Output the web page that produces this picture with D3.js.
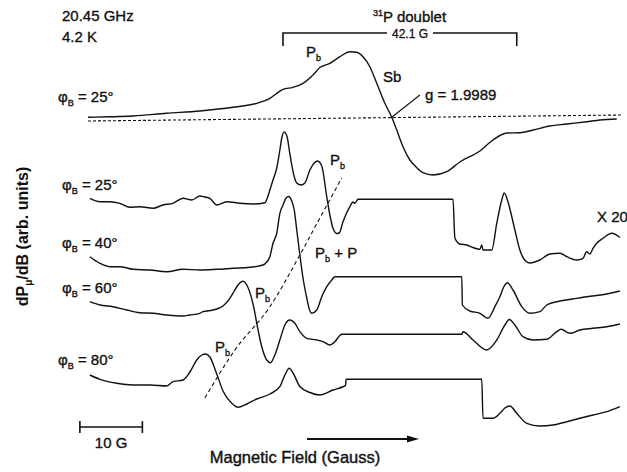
<!DOCTYPE html>
<html>
<head>
<meta charset="utf-8">
<script src="https://cdn.jsdelivr.net/npm/d3@7"></script>
<style>
  body { margin: 0; background: #fff; }
  svg { font-family: "Liberation Sans", Arial, sans-serif; }
</style>
</head>
<body>
<div id="chart"></div>
<script>
// canvas size
var svgWidth = 627;
var svgHeight = 472;

// trace names (phi_B angles) and vertical offsets (arb. units)
var angles = ["25", "25", "40", "60", "80"];
var offsets = [352, 272, 204, 162, 87];

// spectra: [field (G), signal (arb. units)]
var traceSb25 = [
  [0, 2.7], [3.5, 3.2], [7.2, 4], [12.6, 6.7], [17.9, 9], [23.2, 12.7], [27.0, 16.7],
  [29.1, 21.7], [30.2, 26.7], [31.2, 30.7], [32.8, 32.7], [34.4, 36.7], [36.0, 45],
  [37.1, 52.5], [38.7, 56.7], [40.3, 63.3], [41.9, 68.3], [43.0, 67.7], [44.0, 63.3],
  [45.1, 53.3], [46.2, 36.7], [47.5, 16.7], [48.6, 2.7], [49.4, -10], [50.4, -26.7],
  [51.5, -40], [52.5, -47], [53.6, -52.7], [55.2, -55], [57.4, -51.7], [59.5, -42],
  [62.7, -31], [64.8, -20], [67.0, -13], [69.1, -12.7], [71.2, -10], [73.9, -6],
  [76.6, -4], [79.8, -1.7], [81.9, 0], [84.6, 1]
];
var traceP25 = [
  [0.3, 1.7], [1.9, -1.7], [3.5, -1.7], [5.1, -3.3], [6.7, -7.3], [8.3, -6.7], [10.4, -8.3],
  [12.0, -5], [13.6, -3.3], [15.2, 1.7], [16.6, 0], [17.9, 4], [18.7, 3], [19.5, 1.7],
  [20.6, -5], [22.2, -1.7], [24.3, -3.3], [26.4, -4], [28.3, -2.7], [28.8, 4], [29.1, 10],
  [29.6, 20], [30.2, 32], [30.7, 50], [31.0, 62], [31.4, 68], [31.9, 62], [32.2, 50],
  [33.0, 23.3], [33.4, 17], [34.1, 15], [34.7, 17], [35.5, 30], [36.2, 37], [36.7, 39],
  [37.4, 34], [38.2, 3.3], [38.7, -15], [39.2, -28.3], [39.8, -33.5], [40.2, -33],
  [40.8, -21.7], [41.9, -6.7], [42.4, -2], [42.7, -3.3], [43.2, 0.7], [58.4, 0.7],
  [58.7, -38], [59.5, -44], [60.6, -45], [61.6, -47.5], [62.7, -49.3], [63.0, -45],
  [63.2, -50], [64.6, -50], [65.4, -23.3], [66.2, 0], [66.6, 7], [67.2, -2], [68.3, -30],
  [69.1, -50], [70.1, -61.5], [70.7, -63], [72.3, -60], [73.9, -54], [75.5, -53.3],
  [76.6, -56.7], [78.2, -60], [79.2, -58.3], [79.8, -51.7], [80.3, -54], [80.8, -48.3],
  [81.4, -43.3], [82.4, -38.3], [83.8, -33.3], [85.1, -37.5]
];
var traceP40 = [
  [0.3, 11.3], [1.9, 4.7], [3.5, 1.3], [5.1, 1.3], [7.2, -1.3], [9.9, -2], [12.6, -3.7],
  [15.2, -1.3], [17.9, -2], [20.6, -1.3], [23.2, -0.3], [25.9, 0.7], [28.0, 3], [28.6, 6],
  [29.1, 11.3], [29.6, 24.7], [30.2, 34.7], [30.7, 54.7], [31.2, 63], [31.7, 70],
  [32.1, 71.5], [32.6, 67], [33.0, 58], [33.4, 38], [33.9, 13], [34.4, -10], [35.0, -30],
  [35.4, -41], [35.8, -45.3], [36.6, -42], [37.4, -28.7], [38.2, -18.7], [39.0, -12],
  [39.5, -8.7], [59.8, -8.7], [59.9, -37], [61.1, -43], [62.7, -45.3], [64.0, -50.3],
  [65.1, -38.7], [65.9, -28.7], [66.6, -18], [67.1, -14.7], [68.0, -22], [69.4, -38.7],
  [70.7, -45.3], [72.3, -43.7], [73.4, -37], [75.0, -33.7], [77.6, -31], [80.3, -28.3],
  [83.0, -26], [85.1, -23]
];
var traceP60 = [
  [0.3, 8.3], [1.9, 5], [4.0, 3.3], [6.2, 0], [8.3, -2.7], [10.4, -3.3], [12.6, -5],
  [15.2, -6], [16.3, -5], [17.9, -3.3], [18.4, -1.7], [20.0, 0], [21.6, 4], [22.7, 11.7],
  [23.4, 19], [24.0, 25], [24.8, 28.7], [25.6, 22.5], [26.5, 3.3], [27.0, -13.3],
  [27.8, -36.7], [28.6, -50], [29.2, -52.7], [29.9, -45], [30.7, -30], [31.5, -15],
  [32.3, -10], [33.1, -13.3], [33.9, -21.7], [35.0, -28.3], [36.6, -30], [37.6, -31.7],
  [38.7, -35], [39.5, -31.7], [40.3, -25.5], [40.6, -24.3], [59.8, -24.3], [60.0, -21.7],
  [61.6, -30], [63.8, -40], [65.4, -30], [66.7, -15], [67.4, -9.5], [68.3, -15],
  [69.6, -26.7], [71.2, -30], [73.4, -29.3], [75.0, -21.7], [75.7, -19.3], [77.1, -23.3],
  [78.7, -20], [80.8, -18.3], [83.0, -16.7], [85.1, -14]
];
var traceP80 = [
  [0.3, 10], [1.9, 5.7], [4.6, 1.7], [7.2, 0], [9.9, 0], [12.6, -1], [13.6, 3.3],
  [15.2, 5], [16.3, 13], [17.4, 25], [18.2, 30], [18.8, 31], [19.5, 28], [20.6, 11],
  [21.6, -6], [23.0, -18.3], [24.0, -22.3], [25.4, -19], [27.0, -14], [29.1, -9],
  [30.7, -1.7], [31.5, 10], [32.2, 16.7], [32.8, 12], [33.9, -1.5], [35.5, -7.5],
  [37.1, -10], [39.2, -5], [40.9, -1.5], [41.2, -0.5], [41.3, 5.7], [63.0, 5.7],
  [63.2, -33.3], [64.8, -33.3], [65.9, -28.3], [66.7, -23], [67.5, -21], [68.6, -28.3],
  [70.2, -38.3], [72.3, -41], [74.4, -40], [76.6, -36.7], [78.7, -33.3], [80.8, -30],
  [83.0, -26.7], [85.1, -21.7]
];
var traces = [traceSb25, traceP25, traceP40, traceP60, traceP80];

// guide through the P_b peaks: [field (G), arb. units]
var guidePb = [[18.7, 74], [23.5, 122], [29.1, 165.3], [33.9, 217], [37.1, 254], [40.6, 294]];

// zero line of the top spectrum and the 31P doublet bracket (G)
var zeroLine = [[0, -1], [85.6, 5]];
var doublet = [31.2, 68.6];
var scaleBar = [-1.3, 8.7];

// scales
var xScale = d3.scaleLinear().domain([0, 86]).range([88, 625.5]);
var yScale = d3.scaleLinear().domain([0, svgHeight]).range([svgHeight, 0]);

var svg = d3.select("#chart")
  .append("svg")
  .attr("width", svgWidth)
  .attr("height", svgHeight);

var line = d3.line()
  .x(d => xScale(d[0]))
  .y(d => yScale(d[1]));

var smooth = d3.line()
  .x(d => xScale(d[0]))
  .y(d => yScale(d[1]))
  .curve(d3.curveMonotoneX);

// spectra
traces.forEach(function(tr, i) {
  svg.append("path")
    .datum(tr.map(d => [d[0], d[1] + offsets[i]]))
    .attr("d", smooth)
    .attr("fill", "none")
    .attr("stroke", "#111")
    .attr("stroke-width", 1.4)
    .attr("stroke-linejoin", "round");
});

// dotted zero line
svg.append("path")
  .datum(zeroLine.map(d => [d[0], d[1] + offsets[0]]))
  .attr("d", line)
  .attr("stroke", "#111")
  .attr("stroke-width", 1.1)
  .attr("stroke-dasharray", "3,2");

// dashed guide line
svg.append("path")
  .datum(guidePb)
  .attr("d", smooth)
  .attr("fill", "none")
  .attr("stroke", "#111")
  .attr("stroke-width", 1.1)
  .attr("stroke-dasharray", "4,3");

// g-value leader
svg.append("path")
  .datum([[48.6, 2.7 + offsets[0]], [53.1, 377]])
  .attr("d", line)
  .attr("stroke", "#111")
  .attr("stroke-width", 1.1);

// doublet bracket
var bTop = 33, bBot = 46;
var bx0 = xScale(doublet[0]), bx1 = xScale(doublet[1]);
svg.append("path")
  .attr("d", `M${bx0},${bBot}V${bTop}H387M433,${bTop}H${bx1}V${bBot}`)
  .attr("fill", "none")
  .attr("stroke", "#111")
  .attr("stroke-width", 1.6);

// scale bar (10 G)
var sx0 = xScale(scaleBar[0]), sx1 = xScale(scaleBar[1]);
svg.append("path")
  .attr("d", `M${sx0},421V433M${sx0},427H${sx1}M${sx1},421V433`)
  .attr("fill", "none")
  .attr("stroke", "#111")
  .attr("stroke-width", 1.6);

// field arrow
svg.append("line")
  .attr("x1", 307).attr("x2", 410)
  .attr("y1", 439).attr("y2", 439)
  .attr("stroke", "#111")
  .attr("stroke-width", 1.8);
svg.append("path")
  .attr("d", "M419,439L407,435.5L407,442.5Z")
  .attr("fill", "#111");

// text helpers
function label(x, y, parts, size) {
  var t = svg.append("text")
    .attr("x", x)
    .attr("y", y)
    .attr("font-size", size || 15)
    .attr("fill", "#111")
    .attr("stroke", "#111")
    .attr("stroke-width", 0.35);
  parts.forEach(function(p) {
    var s = t.append("tspan").text(p.t);
    if (p.sub) s.attr("font-size", 9).attr("dy", 4);
    if (p.sup) s.attr("font-size", 9).attr("dy", -6);
    if (p.back) s.attr("dy", p.back);
  });
  return t;
}

// phi_B labels
var labelY = [102, 190, 248, 293, 365];
var labelX = [58, 62, 62, 62, 58];
angles.forEach(function(a, i) {
  label(labelX[i], labelY[i], [{t: "φ"}, {t: "B", sub: true}, {t: " = " + a + "°", back: -4}]);
});

label(62, 21, [{t: "20.45 GHz"}]);
label(62, 42, [{t: "4.2 K"}]);
label(373, 22, [{t: "31", sup: true}, {t: "P doublet", back: 6}]);
svg.append("text")
  .attr("x", 410).attr("y", 38)
  .attr("text-anchor", "middle")
  .attr("font-size", 12)
  .attr("fill", "#111")
  .attr("stroke", "#111")
  .attr("stroke-width", 0.3)
  .text("42.1 G");

label(306, 57, [{t: "P"}, {t: "b", sub: true}]);
label(383, 82, [{t: "Sb"}]);
label(425, 100, [{t: "g = 1.9989"}]);
label(330, 165, [{t: "P"}, {t: "b", sub: true}]);
label(315, 258, [{t: "P"}, {t: "b", sub: true}, {t: " + P", back: -4}]);
label(255, 298, [{t: "P"}, {t: "b", sub: true}]);
label(215, 352, [{t: "P"}, {t: "b", sub: true}]);
label(597, 222, [{t: "X 20"}]);

svg.append("text")
  .attr("x", (sx0 + sx1) / 2).attr("y", 448)
  .attr("text-anchor", "middle")
  .attr("font-size", 15)
  .attr("fill", "#111")
  .attr("stroke", "#111")
  .attr("stroke-width", 0.35)
  .text("10 G");

// axis titles
svg.append("text")
  .attr("x", 295).attr("y", 463)
  .attr("text-anchor", "middle")
  .attr("font-size", 16.5)
  .attr("fill", "#111")
  .attr("stroke", "#111")
  .attr("stroke-width", 0.4)
  .text("Magnetic Field (Gauss)");

var yt = svg.append("text")
  .attr("transform", "translate(28, 236.5) rotate(-90)")
  .attr("text-anchor", "middle")
  .attr("font-size", 16)
  .attr("font-weight", "bold")
  .attr("fill", "#111");
yt.append("tspan").text("dP");
yt.append("tspan").text("μ").attr("font-size", 10).attr("dy", 4);
yt.append("tspan").text("/dB (arb. units)").attr("dy", -4);
</script>
</body>
</html>
